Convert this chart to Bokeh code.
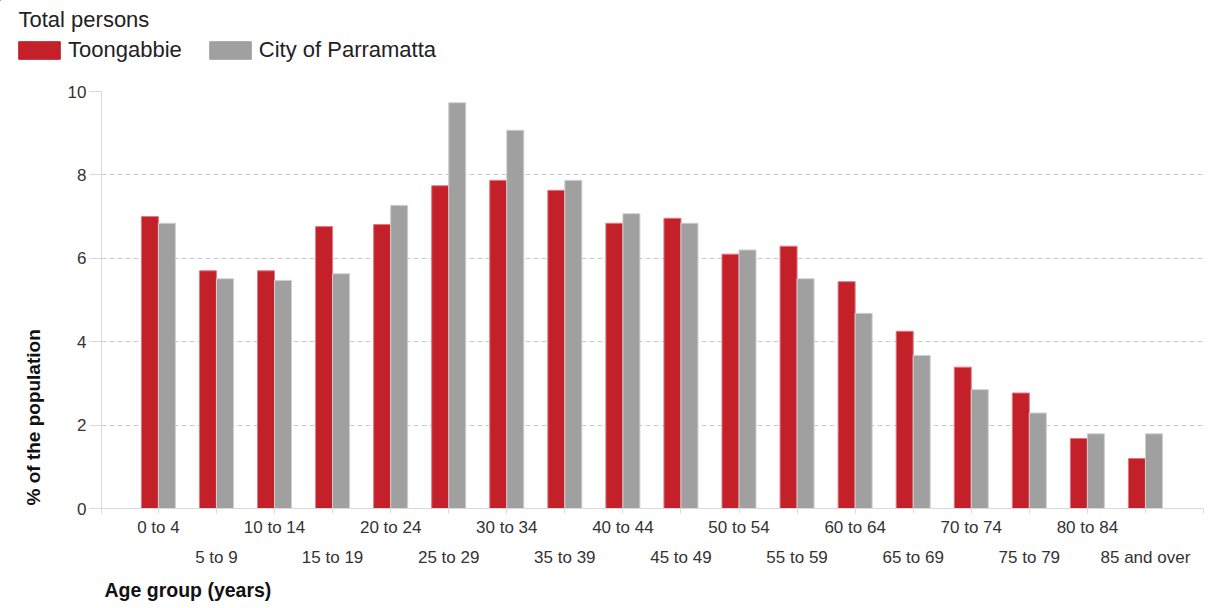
from bokeh.plotting import figure
from bokeh.layouts import column
from bokeh.models import (ColumnDataSource, Range1d, FixedTicker, LinearAxis,
                          Legend, LegendItem, Title, Label)
from bokeh.embed import file_html
from bokeh.resources import INLINE

age_groups = ["0 to 4", "5 to 9", "10 to 14", "15 to 19", "20 to 24", "25 to 29",
              "30 to 34", "35 to 39", "40 to 44", "45 to 49", "50 to 54", "55 to 59",
              "60 to 64", "65 to 69", "70 to 74", "75 to 79", "80 to 84", "85 and over"]
toongabbie = [7.00, 5.70, 5.70, 6.76, 6.81, 7.74, 7.87, 7.63, 6.84, 6.96,
              6.10, 6.29, 5.44, 4.25, 3.39, 2.77, 1.68, 1.20]
parramatta = [6.84, 5.51, 5.47, 5.63, 7.27, 9.73, 9.07, 7.87, 7.07, 6.84,
              6.20, 5.51, 4.68, 3.67, 2.85, 2.29, 1.79, 1.79]
y_ticks = [0, 2, 4, 6, 8, 10]
series_names = ["Toongabbie", "City of Parramatta"]
subtitle = "Total persons"
x_title = "Age group (years)"
y_title = "% of the population"

RED = "#C4202A"
GREY = "#A0A0A0"
FONT = "Liberation Sans"
X0, X1 = -0.98, 18.0
W = 1214
HEAD_H = 70

idx = list(range(len(age_groups)))
bw = 0.293
src = ColumnDataSource(dict(
    xr=[i - bw / 2 for i in idx],
    xg=[i + bw / 2 for i in idx],
    t=toongabbie, c=parramatta, name=age_groups))

# ---------------- header: subtitle + legend ----------------
# header ranges start far from the data, so the legend's source renderers stay out of view
OX, OY = 1000, 1000
head = figure(width=W, height=HEAD_H, output_backend="svg", toolbar_location=None,
              x_range=Range1d(OX, OX + W), y_range=Range1d(OY + HEAD_H, OY),
              min_border_left=0, min_border_right=0, min_border_top=0,
              min_border_bottom=0, x_axis_location=None, y_axis_location=None)
head.frame_align = False
head.outline_line_color = None
head.xgrid.visible = False
head.ygrid.visible = False
k1 = head.vbar(x="xr", top="t", width=bw, source=src, fill_color=RED, line_color=RED)
k2 = head.vbar(x="xg", top="c", width=bw, source=src, fill_color=GREY, line_color=GREY)
head.add_layout(Label(x=OX + 18, y=OY + 19, text=subtitle, text_font=FONT,
                      text_font_size="22px", text_color="#222222",
                      text_baseline="middle", text_align="left"))
legend = Legend(items=[LegendItem(label=series_names[0], renderers=[k1]),
                       LegendItem(label=series_names[1], renderers=[k2])],
                location=(13, 7), orientation="horizontal",
                glyph_width=52, glyph_height=22, label_height=22,
                label_standoff=3, spacing=22, padding=0, margin=0,
                border_line_color=None, background_fill_alpha=0,
                label_text_font=FONT, label_text_font_size="22px",
                label_text_color="#222222")
head.add_layout(legend, "center")

# ---------------- main chart ----------------
MAIN_H = 608 - HEAD_H
p = figure(width=W, height=MAIN_H, output_backend="svg", toolbar_location=None,
           x_range=Range1d(X0, X1), y_range=Range1d(0, 10),
           min_border_left=101, min_border_right=11, min_border_top=91 - HEAD_H,
           min_border_bottom=MAIN_H - (508 - HEAD_H),
           x_axis_location=None, y_axis_location=None)
p.frame_align = False
p.outline_line_color = None
p.background_fill_color = "white"
p.border_fill_color = "white"

r1 = p.vbar(x="xr", top="t", width=bw, bottom=0, source=src, fill_color=RED,
            line_color="#e07a80", line_width=1)
r2 = p.vbar(x="xg", top="c", width=bw, bottom=0, source=src, fill_color=GREY,
            line_color="#cfcfcf", line_width=1)

yax = LinearAxis(ticker=FixedTicker(ticks=y_ticks))
yax.axis_line_color = "#d9d9d9"
yax.major_tick_line_color = "#d9d9d9"
yax.major_tick_out = 12
yax.major_tick_in = 0
yax.minor_tick_line_color = None
yax.major_label_standoff = 3
yax.major_label_text_font = FONT
yax.major_label_text_font_size = "17px"
yax.major_label_text_color = "#333333"
p.add_layout(yax, "left")

xt = [X0] + idx + [X1]
ov = {i: (age_groups[i] if i % 2 == 0 else "") for i in idx}
ov[X0] = ""
ov[X1] = ""
xax1 = LinearAxis(ticker=FixedTicker(ticks=xt))
xax1.major_label_overrides = ov
xax1.axis_line_color = "#d9d9d9"
xax1.major_tick_line_color = "#d9d9d9"
xax1.major_tick_out = 5
xax1.major_tick_in = 0
xax1.minor_tick_line_color = None
xax1.major_label_standoff = 4
xax1.major_label_text_font = FONT
xax1.major_label_text_font_size = "17px"
xax1.major_label_text_color = "#333333"
p.add_layout(xax1, "below")

odd = [i for i in idx if i % 2 == 1]
xax2 = LinearAxis(ticker=FixedTicker(ticks=odd))
xax2.major_label_overrides = {i: age_groups[i] for i in odd}
xax2.axis_line_color = None
xax2.major_tick_line_color = None
xax2.major_tick_out = 0
xax2.major_tick_in = 0
xax2.minor_tick_line_color = None
xax2.major_label_standoff = 8
xax2.major_label_text_font = FONT
xax2.major_label_text_font_size = "17px"
xax2.major_label_text_color = "#333333"
p.add_layout(xax2, "below")

p.add_layout(Title(text=x_title, align="left", offset=3, standoff=15,
                   text_font=FONT, text_font_size="19.5px", text_font_style="bold",
                   text_color="#111111"), "below")
p.add_layout(Title(text=y_title, align="left", offset=3, standoff=41,
                   text_font=FONT, text_font_size="19px", text_font_style="bold",
                   text_color="#111111"), "left")

p.xgrid.visible = False
p.ygrid.ticker = FixedTicker(ticks=y_ticks[1:])
p.ygrid.grid_line_color = "#cccccc"
p.ygrid.grid_line_dash = "5 3"

layout = column(head, p, spacing=0)
open("out.html", "w").write(file_html(layout, INLINE))
